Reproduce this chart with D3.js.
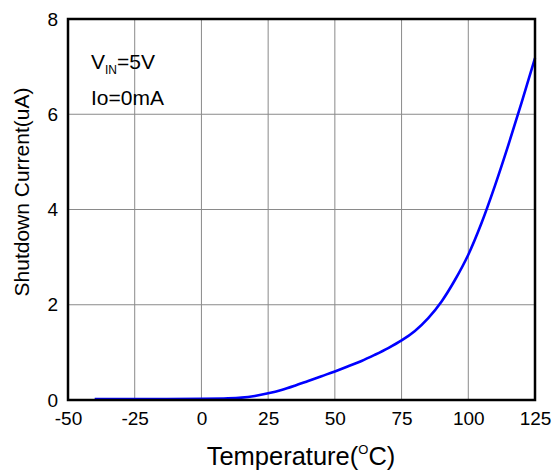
<!DOCTYPE html>
<html>
<head>
<meta charset="utf-8">
<script src="https://cdn.jsdelivr.net/npm/d3@7"></script>
<style>
  html, body { margin: 0; padding: 0; background: #fff; }
  svg text { font-family: "Liberation Sans", Arial, sans-serif; fill: #000; }
</style>
</head>
<body>
<svg id="chart" width="555" height="472"></svg>
<script>
// Shutdown current vs. temperature (VIN = 5V, Io = 0mA)
const temperature = [-40, -20, 0, 10, 15, 20, 25, 30, 35, 40, 45, 50, 55, 60, 65, 70, 75, 80, 85, 90, 95, 100, 105, 110, 115, 120, 125];
const current     = [0.02, 0.02, 0.025, 0.035, 0.05, 0.085, 0.14, 0.21, 0.3, 0.4, 0.5, 0.6, 0.71, 0.82, 0.95, 1.09, 1.25, 1.45, 1.72, 2.07, 2.52, 3.05, 3.72, 4.5, 5.35, 6.25, 7.18];

const xTicks = [-50, -25, 0, 25, 50, 75, 100, 125];
const yTicks = [0, 2, 4, 6, 8];

const svg = d3.select("#chart");
const plot = { left: 68, right: 535, top: 19, bottom: 400 };

const x = d3.scaleLinear().domain([-50, 125]).range([plot.left, plot.right]);
const y = d3.scaleLinear().domain([0, 8]).range([plot.bottom, plot.top]);

// grid lines
const grid = svg.append("g").attr("stroke", "#8a8a8a").attr("stroke-width", 1);
grid.selectAll("line.vx").data(xTicks.slice(1, -1)).join("line")
  .attr("x1", d => x(d)).attr("x2", d => x(d))
  .attr("y1", plot.top).attr("y2", plot.bottom);
grid.selectAll("line.hy").data(yTicks.slice(1, -1)).join("line")
  .attr("x1", plot.left).attr("x2", plot.right)
  .attr("y1", d => y(d)).attr("y2", d => y(d));

// data curve
const line = d3.line()
  .x((d, i) => x(temperature[i]))
  .y(d => y(d))
  .curve(d3.curveCatmullRom.alpha(0.5));
svg.append("path")
  .datum(current)
  .attr("fill", "none")
  .attr("stroke", "#0000ff")
  .attr("stroke-width", 2.6)
  .attr("d", line);

// frame
svg.append("rect")
  .attr("x", plot.left).attr("y", plot.top)
  .attr("width", plot.right - plot.left).attr("height", plot.bottom - plot.top)
  .attr("fill", "none").attr("stroke", "#000").attr("stroke-width", 2.5);

// axes (labels only, frame drawn above)
const fmt = d => String(d);
const xAxis = d3.axisBottom(x).tickValues(xTicks).tickSize(0).tickPadding(9).tickFormat(fmt);
const gx = svg.append("g").attr("transform", `translate(0,${plot.bottom})`).call(xAxis);
gx.select(".domain").remove();
gx.selectAll("text").attr("font-size", 19).attr("font-family", "Liberation Sans, Arial, sans-serif")
  .attr("fill", "#000").attr("dy", "0.85em");

const yAxis = d3.axisLeft(y).tickValues(yTicks).tickSize(0).tickPadding(10).tickFormat(fmt);
const gy = svg.append("g").attr("transform", `translate(${plot.left},0)`).call(yAxis);
gy.select(".domain").remove();
gy.selectAll("text").attr("font-size", 19).attr("font-family", "Liberation Sans, Arial, sans-serif")
  .attr("fill", "#000");

// axis titles
const xt = svg.append("text")
  .attr("x", 301).attr("y", 465)
  .attr("text-anchor", "middle")
  .attr("font-size", 25.5);
xt.append("tspan").text("Temperature(");
xt.append("tspan").text("O").attr("font-size", 13).attr("dy", -11);
xt.append("tspan").text("C)").attr("dy", 11);

svg.append("text")
  .attr("transform", "translate(29,192) rotate(-90)")
  .attr("text-anchor", "middle")
  .attr("font-size", 21)
  .text("Shutdown Current(uA)");

// conditions note
const note = svg.append("text").attr("x", 91).attr("y", 69).attr("font-size", 21);
note.append("tspan").text("V");
note.append("tspan").text("IN").attr("font-size", 12).attr("dy", 5);
note.append("tspan").text("=5V").attr("dy", -5);
svg.append("text").attr("x", 91).attr("y", 105).attr("font-size", 21).text("Io=0mA");
</script>
</body>
</html>
